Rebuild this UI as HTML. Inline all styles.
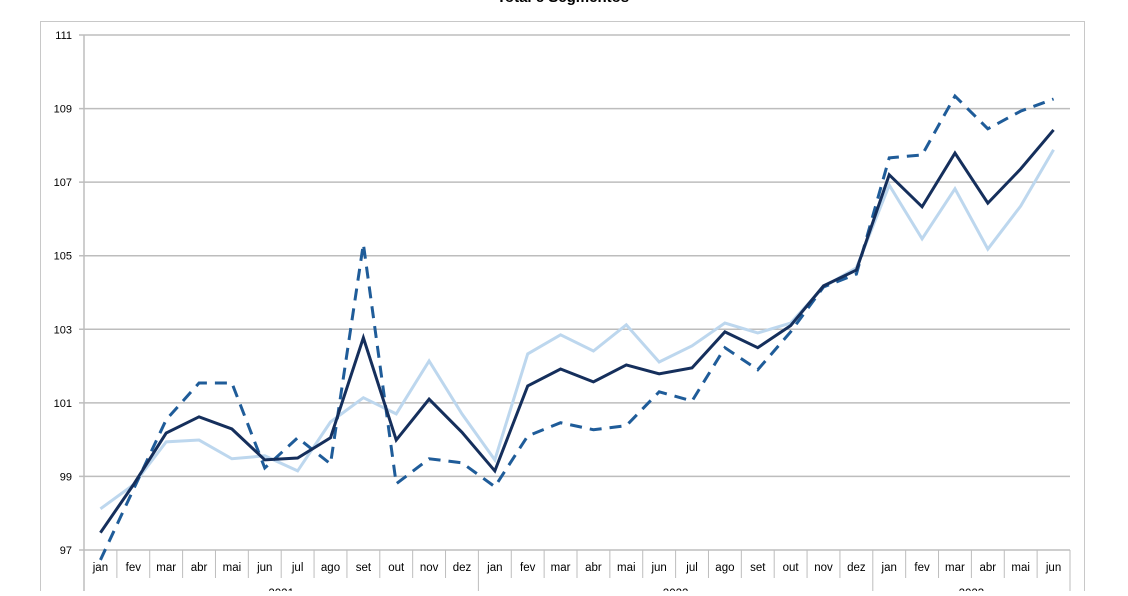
<!DOCTYPE html>
<html><head><meta charset="utf-8"><style>
body{margin:0;background:#fff;font-family:"Liberation Sans",sans-serif}
svg text{font-family:"Liberation Sans",sans-serif}
</style></head><body>
<svg id="c" width="1128" height="591" xmlns="http://www.w3.org/2000/svg">
<rect x="40.5" y="21.5" width="1044" height="600" fill="none" stroke="#c8c8c8"/>
<text x="563" y="2" text-anchor="middle" font-size="15" font-weight="bold" fill="#000">Total e Segmentos</text>
<g id="grid"></g><g id="axes"></g><g id="series"></g>
</svg>
<script>
const months=["jan","fev","mar","abr","mai","jun","jul","ago","set","out","nov","dez","jan","fev","mar","abr","mai","jun","jul","ago","set","out","nov","dez","jan","fev","mar","abr","mai","jun"];
const years=["2021","2022","2023"];
const yTicks=[97,99,101,103,105,107,109,111];
const totalSeries=[97.47,98.77,100.18,100.62,100.29,99.45,99.5,100.05,102.77,99.99,101.1,100.2,99.15,101.46,101.92,101.57,102.03,101.79,101.95,102.93,102.5,103.1,104.18,104.61,107.2,106.33,107.79,106.43,107.36,108.42];
const lightSeries=[98.12,98.77,99.94,99.99,99.48,99.56,99.15,100.48,101.14,100.7,102.14,100.7,99.45,102.33,102.85,102.41,103.12,102.11,102.55,103.17,102.9,103.17,104.15,104.67,106.92,105.46,106.82,105.18,106.35,107.88];
const dashedSeries=[96.73,98.64,100.54,101.54,101.54,99.23,100.05,99.34,105.32,98.8,99.48,99.37,98.72,100.1,100.46,100.27,100.38,101.3,101.05,102.5,101.9,102.93,104.15,104.5,107.66,107.74,109.34,108.45,108.93,109.26];
const NS="http://www.w3.org/2000/svg";
const L=84,R=1070,T=35,B=550,ymin=97,ymax=111;
const cw=(R-L)/months.length;
const x=i=>L+cw*(i+0.5);
const y=v=>T+(ymax-v)/(ymax-ymin)*(B-T);
function mk(tag,at,parent){const e=document.createElementNS(NS,tag);for(const k in at)e.setAttribute(k,at[k]);parent.appendChild(e);return e;}
const grid=document.getElementById('grid'),axes=document.getElementById('axes'),ser=document.getElementById('series');
yTicks.forEach(v=>{
  const g=mk('line',{x1:L-5,x2:R,y1:y(v),y2:y(v),stroke:'#bdbdbd','stroke-width':1.5},grid);
  
  
  const t=mk('text',{x:72,y:y(v)+4,'text-anchor':'end','font-size':11,fill:'#000'},axes);
  t.textContent=v;
  
  
});
const ax=mk('line',{x1:L,x2:L,y1:T,y2:591,stroke:'#bdbdbd','stroke-width':1.5},axes);


months.forEach((m,i)=>{
  const sep=mk('line',{x1:L+cw*(i+1),x2:L+cw*(i+1),y1:B,y2:(i+1)%12==0||i==months.length-1?591:578,stroke:'#bdbdbd'},axes);
  
  
  const t=mk('text',{x:x(i),y:571,'text-anchor':'middle','font-size':11.5,fill:'#000'},axes);
  t.textContent=m;
  
  
});
years.forEach((yr,k)=>{
  const n=Math.min(12,months.length-12*k);
  const t=mk('text',{x:L+cw*(12*k+n/2),y:597,'text-anchor':'middle','font-size':11.5,fill:'#000'},axes);
  t.textContent=yr;
  
  
});
function line(data,stroke,w,dash,name){
  const p=mk('polyline',{points:data.map((v,i)=>x(i)+','+y(v)).join(' '),fill:'none',stroke:stroke,'stroke-width':w,'stroke-linejoin':'miter'},ser);
  if(dash)p.setAttribute('stroke-dasharray',dash);
  
  
}
line(lightSeries,'#bdd7ee',3,null,'series-light');
line(dashedSeries,'#1f5c99',3,'12,8','series-dashed');
line(totalSeries,'#152f5c',3,null,'series-total');
</script>
</body></html>
